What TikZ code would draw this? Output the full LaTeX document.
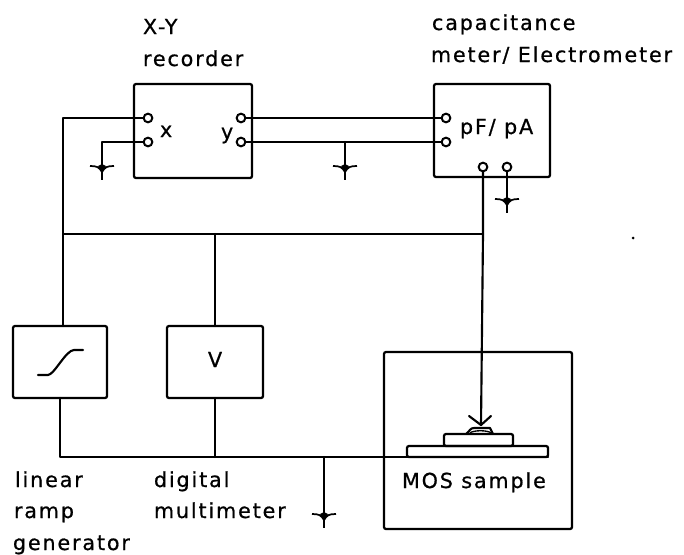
\documentclass[tikz,border=0pt]{standalone}
\usepackage{fontspec}
\setmainfont[LetterSpace=9,FakeBold=0.7]{DejaVu Sans}
\tikzset{
  wire/.style={line width=1.6pt,line cap=round,line join=round},
  unitbox/.style={draw,line width=1.7pt,rounded corners=1.5pt,inner sep=0pt,outer sep=0pt},
  term/.style={circle,draw,line width=1.5pt,fill=white,minimum size=6.5pt,inner sep=0pt,outer sep=0pt},
  lbl/.style={anchor=base west,inner sep=0pt,outer sep=0pt,font=\fontsize{15.5pt}{18pt}\selectfont},
  gnd/.pic={
    \draw[line width=1.3pt] (-12,-1) .. controls (-5,-1) and (-3,0) .. (0,5) .. controls (3,0) and (5,-1) .. (12,-1);
    \fill (-4,-1) -- (0,-3) -- (4,-1) -- (0,5) -- cycle;
    \draw[line width=1.3pt] (0,-3) -- (0,13);
  }
}
\begin{document}
\begin{tikzpicture}[x=0.75pt,y=-0.75pt]
\useasboundingbox (0,0) rectangle (684,554);
% units
\node[unitbox,minimum width=88.5pt,minimum height=70.5pt] (rec) at (193,131) {};
\node[unitbox,minimum width=87pt,minimum height=69.75pt] (met) at (492,130.5) {};
\node[unitbox,minimum width=70.5pt,minimum height=54pt] (ramp) at (60,362) {};
\node[unitbox,minimum width=72pt,minimum height=54pt] (dmm) at (215,362) {};
\node[unitbox,minimum width=141pt,minimum height=132.75pt] (samp) at (478,440.5) {};
% MOS layers
\node[unitbox,minimum width=105.75pt,minimum height=8.25pt] (sub) at (477.5,451.5) {};
\node[unitbox,minimum width=51.75pt,minimum height=9pt] (oxide) at (478.5,440) {};
\coordinate (domeL) at (466,434);
\coordinate (domeR) at (493,434);
\coordinate (tip) at (481,425);
\draw[wire] (domeL) .. controls (470,431) and (470,428) .. (474,428) -- (490,428) -- (domeR);
\draw[wire,line width=1pt] (470,433) .. controls (473,430) and (488,430) .. (491,433);
% terminals
\node[term] (xa) at (148,118) {};
\node[term] (xb) at (148,142) {};
\node[term] (ya) at (241,118) {};
\node[term] (yb) at (241,142) {};
\node[term] (pa) at (446,118) {};
\node[term] (pb) at (446,142) {};
\node[term] (pc) at (483,167) {};
\node[term] (pd) at (507,167) {};
% junctions and ground points
\coordinate (lt) at (63,118);
\coordinate (tl) at (63,234);
\coordinate (tm) at (215,234);
\coordinate (tr) at (483,234);
\coordinate (bl) at (60,457);
\coordinate (bm) at (213,457);
\coordinate (bg) at (324,457);
\coordinate (c1) at (102,142);
\coordinate (g1) at (102,167);
\coordinate (c2) at (345,142);
\coordinate (g2) at (345,167);
\coordinate (g3) at (507,200);
\coordinate (g4) at (324,515);
% wiring
\draw[wire] (xa) -- (lt) -- (tl) -- (tr);
\draw[wire] (xb) -- (c1) -- (g1);
\draw[wire] (ya) -- (pa);
\draw[wire] (yb) -- (pb);
\draw[wire] (c2) -- (g2);
\draw[wire] (pc) -- (tr) -- (tip);
\draw[wire] (pd) -- (g3);
\draw[wire] (tl) -- (tl |- ramp.north);
\draw[wire] (tm) -- (dmm.north);
\draw[wire] (ramp.south) -- (bl) -- (bl -| sub.east);
\draw[wire] (dmm.south) -- (dmm.south |- bm);
\draw[wire] (bg) -- (g4);
\draw[wire] (tip) -- (469,416);
\draw[wire] (tip) -- (491,416);
% ground symbols
\pic at (g1) {gnd};
\pic at (g2) {gnd};
\pic at (g3) {gnd};
\pic at (g4) {gnd};
% ramp symbol
\draw[wire] (38,375) -- (48,375) .. controls (54,375) and (66,350) .. (74,350) -- (83,350);
% labels
\node[lbl] (t1) at (143,34) {X-Y};
\node[lbl] (t2) at (143,66) {recorder};
\node[lbl] (t3) at (432,30) {capacitance};
\node[lbl] (t4) at (431,62) {meter/ Electrometer};
\node[lbl] (t5) at (160,137) {x};
\node[lbl] (t6) at (221,139) {y};
\node[lbl] (t7) at (460,134) {pF/ pA};
\node[lbl] (t8) at (208,367) {V};
\node[lbl] (t9) at (15,487) {linear};
\node[lbl] (t10) at (14,518) {ramp};
\node[lbl] (t11) at (13,550) {generator};
\node[lbl] (t12) at (154,487) {digital};
\node[lbl] (t13) at (154,518) {multimeter};
\node[lbl] (t14) at (402,488) {MOS sample};
\fill (633,238) circle (1.5);
\end{tikzpicture}
\end{document}
